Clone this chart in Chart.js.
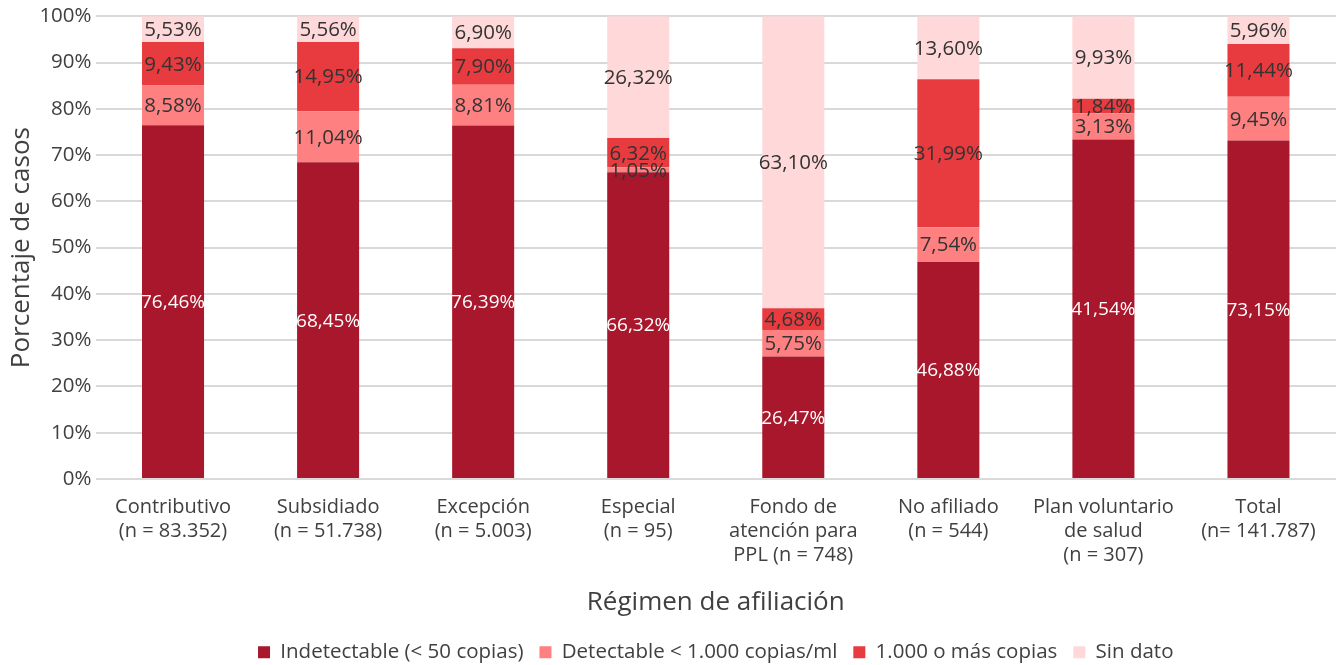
<!DOCTYPE html>
<html>
<head>
<meta charset="utf-8">
<script src="https://cdn.jsdelivr.net/npm/chart.js@4"></script>
<style>
  html, body { margin: 0; padding: 0; background: #fff; }
  #wrap { width: 1340px; height: 665px; }
</style>
</head>
<body>
<div id="wrap"><canvas id="regimenChart" width="1340" height="665"></canvas></div>
<script>
// Categorías (eje x, multilínea)
const categorias = [
    ['Contributivo', '(n = 83.352)'],
    ['Subsidiado', '(n = 51.738)'],
    ['Excepción', '(n = 5.003)'],
    ['Especial', '(n = 95)'],
    ['Fondo de', 'atención para', 'PPL (n = 748)'],
    ['No afiliado', '(n = 544)'],
    ['Plan voluntario', 'de salud', '(n = 307)'],
    ['Total', '(n= 141.787)']
];

// Valores por serie (altura dibujada, %)
const indetectable = [76.46, 68.45, 76.39, 66.32, 26.47, 46.88, 73.4, 73.15];
const detectable   = [8.58, 11.04, 8.81, 1.05, 5.75, 7.54, 5.65, 9.45];
const milOMas      = [9.43, 14.95, 7.90, 6.32, 4.68, 31.99, 3.15, 11.44];
const sinDato      = [5.53, 5.56, 6.90, 26.32, 63.10, 13.60, 17.8, 5.96];

// Etiquetas de texto tal como aparecen en la figura
const etiqIndetectable = ['76,46%', '68,45%', '76,39%', '66,32%', '26,47%', '46,88%', '41,54%', '73,15%'];
const etiqDetectable   = ['8,58%', '11,04%', '8,81%', '1,05%', '5,75%', '7,54%', '3,13%', '9,45%'];
const etiqMilOMas      = ['9,43%', '14,95%', '7,90%', '6,32%', '4,68%', '31,99%', '1,84%', '11,44%'];
const etiqSinDato      = ['5,53%', '5,56%', '6,90%', '26,32%', '63,10%', '13,60%', '9,93%', '5,96%'];

const ticksY = [0, 10, 20, 30, 40, 50, 60, 70, 80, 90, 100];

const FONT = '"Open Sans", "Noto Sans", sans-serif';

// Plugin para escribir los valores dentro de cada segmento
const etiquetasBarras = {
    id: 'etiquetasBarras',
    afterDatasetsDraw(chart) {
        const ctx = chart.ctx;
        ctx.save();
        ctx.textAlign = 'center';
        ctx.textBaseline = 'middle';
        chart.data.datasets.forEach((ds, i) => {
            const meta = chart.getDatasetMeta(i);
            ctx.font = ds.labelSize + 'px ' + FONT;
            ctx.fillStyle = ds.labelColor;
            meta.data.forEach((bar, j) => {
                const y = (bar.y + bar.base) / 2;
                ctx.fillText(ds.textos[j], bar.x, y + 1);
            });
        });
        ctx.restore();
    }
};

// Alto fijo para la leyenda (Legend.update llama a fit directamente)
const alturaLeyenda = {
    id: 'alturaLeyenda',
    beforeLayout(chart) {
        const leg = chart.legend;
        if (leg && !leg._fitParcheado) {
            const proto = Object.getPrototypeOf(leg);
            leg.fit = function() { proto.fit.call(this); this.height = 39; };
            leg._fitParcheado = true;
        }
    }
};

const ctx = document.getElementById('regimenChart').getContext('2d');
const regimenChart = new Chart(ctx, {
    type: 'bar',
    data: {
        labels: categorias,
        datasets: [
            { label: 'Indetectable (< 50 copias)', data: indetectable, textos: etiqIndetectable, backgroundColor: '#A8172B', labelColor: '#ffffff', labelSize: 19 },
            { label: 'Detectable < 1.000 copias/ml', data: detectable, textos: etiqDetectable, backgroundColor: '#FF8080', labelColor: '#333333', labelSize: 20.5 },
            { label: '1.000 o más copias', data: milOMas, textos: etiqMilOMas, backgroundColor: '#E83B3F', labelColor: '#333333', labelSize: 20.5 },
            { label: 'Sin dato', data: sinDato, textos: etiqSinDato, backgroundColor: '#FFD8D9', labelColor: '#333333', labelSize: 20.5 }
        ]
    },
    options: {
        responsive: false,
        animation: false,
        datasets: { bar: { categoryPercentage: 1, barPercentage: 0.4, borderWidth: 0 } },
        layout: { padding: { left: 0, right: 4, top: 15, bottom: 0 } },
        plugins: {
            legend: {
                position: 'bottom',
                fullSize: false,
                labels: {
                    font: { family: FONT, size: 20.5 },
                    color: '#404040',
                    boxWidth: 12,
                    boxHeight: 12,
                    padding: 16
                }
            },
            tooltip: { enabled: false }
        },
        scales: {
            x: {
                stacked: true,
                afterFit(axis) { axis.height = 147; },
                grid: { display: false },
                border: { display: false },
                ticks: {
                    font: { family: FONT, size: 20, lineHeight: 1.2 },
                    color: '#404040',
                    maxRotation: 0,
                    padding: 8
                },
                title: {
                    display: true,
                    text: 'Régimen de afiliación',
                    font: { family: FONT, size: 26, lineHeight: 1 },
                    color: '#404040',
                    padding: { top: 0, bottom: 10 }
                }
            },
            y: {
                stacked: true,
                min: 0,
                max: 100,
                afterBuildTicks(axis) { axis.ticks = ticksY.map(v => ({ value: v })); },
                afterFit(axis) { axis.width = 95.5; },
                grid: { color: '#d9d9d9', lineWidth: 2, drawTicks: false },
                border: { display: false },
                ticks: {
                    font: { family: FONT, size: 20.5 },
                    color: '#404040',
                    padding: 4,
                    callback: v => v + '%'
                },
                title: {
                    display: true,
                    text: 'Porcentaje de casos',
                    font: { family: FONT, size: 26, lineHeight: 1 },
                    color: '#404040',
                    padding: { top: 9 }
                }
            }
        }
    },
    plugins: [etiquetasBarras, alturaLeyenda]
});
</script>
</body>
</html>
